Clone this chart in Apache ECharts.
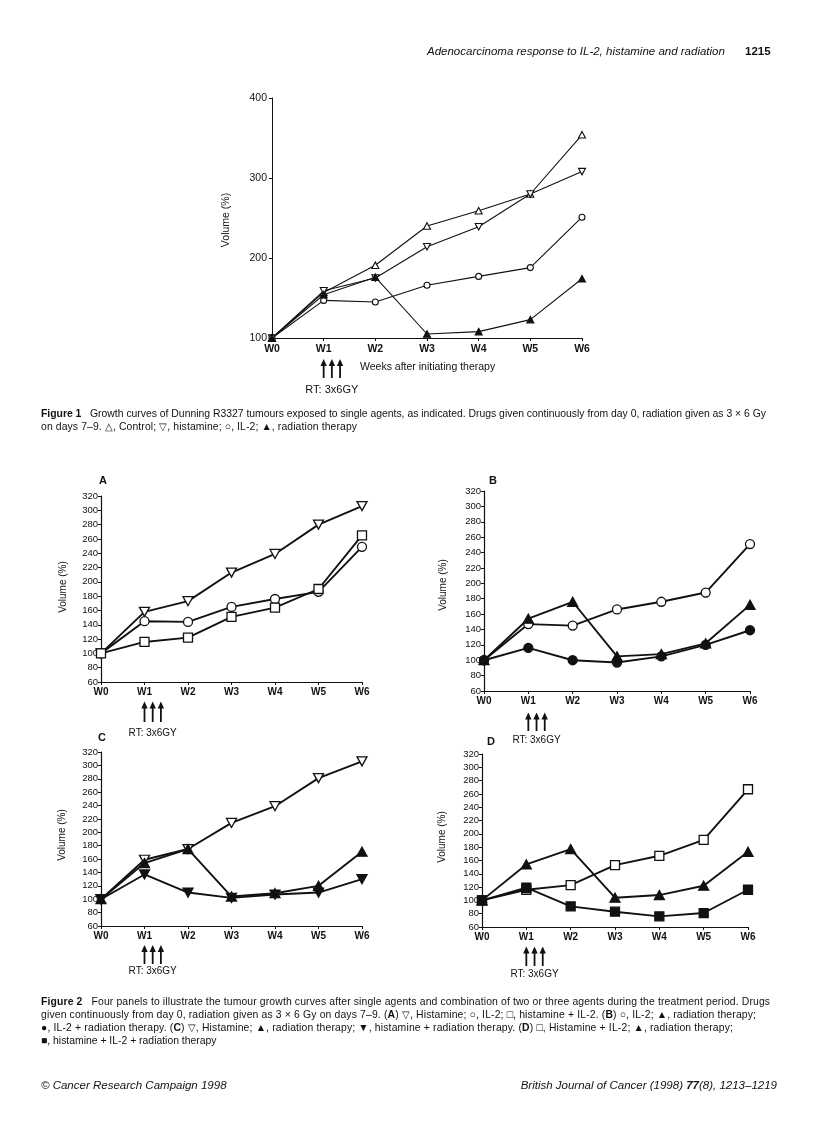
<!DOCTYPE html>
<html>
<head>
<meta charset="utf-8">
<script src="https://cdn.jsdelivr.net/npm/echarts@6/dist/echarts.min.js"></script>
<style>
  html, body { margin: 0; padding: 0; background: #fff; }
  #chart { position: absolute; left: 0; top: 0; width: 816px; height: 1139px; }
  .t { position: absolute; white-space: nowrap; font-family: "Liberation Sans", Arial, Helvetica, sans-serif; color: #111; }
  .cap { font-size: 10.4px; line-height: 13px; left: 41px; }
</style>
</head>
<body>
<div id="chart"></div>

<div class="t" style="left:427px; top:45px; font-size:11.5px; font-style:italic;">Adenocarcinoma response to IL-2, histamine and radiation</div>
<div class="t" style="left:745px; top:45px; font-size:11.5px; font-weight:bold;">1215</div>

<div class="t cap fit" data-r="766" style="top:406.5px;"><b>Figure 1</b>&nbsp;&nbsp; Growth curves of Dunning R3327 tumours exposed to single agents, as indicated. Drugs given continuously from day 0, radiation given as 3 × 6 Gy</div>
<div class="t cap fit" data-r="357" style="top:419.5px;">on days 7–9. △, Control; ▽, histamine; ○, IL-2; ▲, radiation therapy</div>

<div class="t cap fit" data-r="770" style="top:994.5px;"><b>Figure 2</b>&nbsp;&nbsp; Four panels to illustrate the tumour growth curves after single agents and combination of two or three agents during the treatment period. Drugs</div>
<div class="t cap fit" data-r="756" style="top:1007.5px;">given continuously from day 0, radiation given as 3 × 6 Gy on days 7–9. (<b>A</b>) ▽, Histamine; ○, IL-2; □, histamine + IL-2. (<b>B</b>) ○, IL-2; ▲, radiation therapy;</div>
<div class="t cap fit" data-r="733" style="top:1020.5px;">●, IL-2 + radiation therapy. (<b>C</b>) ▽, Histamine; ▲, radiation therapy; ▼, histamine + radiation therapy. (<b>D</b>) □, Histamine + IL-2; ▲, radiation therapy;</div>
<div class="t cap" style="top:1033.5px;">■, histamine + IL-2 + radiation therapy</div>

<div class="t" style="left:41px; top:1079px; font-size:11.5px; font-style:italic;">© Cancer Research Campaign 1998</div>
<div class="t" style="right:39px; top:1079px; font-size:11.5px; font-style:italic;">British Journal of Cancer (1998) <b>77</b>(8), 1213–1219</div>

<script>
// ---------------- DATA ----------------
const weeks = ['W0', 'W1', 'W2', 'W3', 'W4', 'W5', 'W6'];

// Figure 1 tick values
const fig1YTicks = [100, 200, 300, 400];
// Figure 2 tick values
const fig2YTicks = [60, 80, 100, 120, 140, 160, 180, 200, 220, 240, 260, 280, 300, 320];

// Figure 1 series
const f1Control   = [100, 157, 191, 240, 259, 280, 354];
const f1Histamine = [100, 159, 175, 214, 239, 280, 308];
const f1IL2       = [100, 147, 145, 166, 177, 188, 251];
const f1Radiation = [100, 154, 176, 105, 108, 123, 174];

// Figure 2 panel A
const aHistamine = [100, 158, 173, 213, 239, 280, 306];
const aIL2       = [100, 145, 144, 165, 176, 186, 249];
const aHistIL2   = [100, 116, 122, 151, 164, 190, 265];

// Figure 2 panel B
const bIL2   = [100, 147, 145, 166, 176, 188, 251];
const bRT    = [100, 154, 176, 105, 108, 122, 172];
const bIL2RT = [100, 116, 100, 97, 105, 120, 139];

// Figure 2 panel C
const cHistamine = [100, 159, 175, 214, 239, 281, 306];
const cRT        = [100, 154, 175, 104, 109, 120, 171];
const cHistRT    = [100, 137, 110, 102, 107, 110, 130];

// Figure 2 panel D
const dHistIL2   = [100, 116, 123, 153, 167, 191, 267];
const dRT        = [100, 154, 177, 104, 108, 122, 173];
const dHistIL2RT = [100, 119, 91, 83, 76, 81, 116];

// ---------------- CAPTION FITTING ----------------
document.querySelectorAll('.fit').forEach(el => {
  const left = el.getBoundingClientRect().left;
  const w = el.getBoundingClientRect().width;
  const target = parseFloat(el.dataset.r) - left;
  const n = el.textContent.length;
  if (n > 1) el.style.letterSpacing = ((target - w) / (n - 1)).toFixed(3) + 'px';
});

// ---------------- STYLE / LAYOUT ----------------
const FONT = '"Liberation Sans", Arial, Helvetica, sans-serif';
const INK = '#111';

const grids = [
  { left: 272, top: 98,  width: 310, height: 240 },  // Figure 1
  { left: 101, top: 496, width: 261, height: 186 },  // A
  { left: 484, top: 491, width: 266, height: 200 },  // B
  { left: 101, top: 752, width: 261, height: 174 },  // C
  { left: 482, top: 754, width: 266, height: 173 }   // D
].map(g => Object.assign({ containLabel: false, outerBoundsMode: 'none' }, g));

function xAxis(gi, big) {
  return {
    type: 'category', gridIndex: gi, data: weeks, boundaryGap: false,
    axisLine: { show: true, lineStyle: { color: INK, width: 1 } },
    axisTick: { show: true, length: 3, lineStyle: { color: INK } },
    axisLabel: { color: INK, fontFamily: FONT, fontWeight: 'bold', fontSize: big ? 10.5 : 10, margin: big ? 6 : 5 },
    splitLine: { show: false }
  };
}
function yAxis(gi, ticks, big) {
  const step = ticks[1] - ticks[0];
  return {
    type: 'value', gridIndex: gi, min: ticks[0], max: ticks[ticks.length - 1], interval: step,
    axisLine: { show: true, lineStyle: { color: INK, width: big ? 1 : 1.2 } },
    axisTick: { show: true, length: 3, lineStyle: { color: INK } },
    axisLabel: { color: INK, fontFamily: FONT, fontSize: big ? 10.5 : 9.5, margin: big ? 5 : 3 },
    splitLine: { show: false }
  };
}

const SYM = {
  triUpOpen:     { symbol: 'triangle', rotate: 0,   fill: '#fff' },
  triDownOpen:   { symbol: 'triangle', rotate: 180, fill: '#fff' },
  circleOpen:    { symbol: 'circle',   rotate: 0,   fill: '#fff' },
  rectOpen:      { symbol: 'rect',     rotate: 0,   fill: '#fff' },
  triUpFilled:   { symbol: 'triangle', rotate: 0,   fill: INK },
  triDownFilled: { symbol: 'triangle', rotate: 180, fill: INK },
  circleFilled:  { symbol: 'circle',   rotate: 0,   fill: INK },
  rectFilled:    { symbol: 'rect',     rotate: 0,   fill: INK }
};

function line(name, data, gi, kind, big) {
  const s = SYM[kind];
  let size;
  if (big) size = s.symbol === 'triangle' ? [7, 6.5] : 6;
  else size = s.symbol === 'triangle' ? [10, 9] : 9;
  return {
    type: 'line', name, data, xAxisIndex: gi, yAxisIndex: gi,
    symbol: s.symbol, symbolRotate: s.rotate, symbolSize: size, showAllSymbol: true,
    lineStyle: { color: INK, width: big ? 1.1 : 1.9 },
    itemStyle: { color: s.fill, borderColor: INK, borderWidth: big ? 1.1 : 1.3 },
    emphasis: { disabled: true }, animation: false, z: 3
  };
}

const chart = echarts.init(document.getElementById('chart'), null, { renderer: 'canvas', width: 816, height: 1139 });

chart.setOption({
  backgroundColor: '#fff',
  animation: false,
  textStyle: { fontFamily: FONT, color: INK },
  grid: grids,
  xAxis: [xAxis(0, true), xAxis(1), xAxis(2), xAxis(3), xAxis(4)],
  yAxis: [yAxis(0, fig1YTicks, true), yAxis(1, fig2YTicks), yAxis(2, fig2YTicks), yAxis(3, fig2YTicks), yAxis(4, fig2YTicks)],
  series: [
    line('Control', f1Control, 0, 'triUpOpen', true),
    line('Histamine', f1Histamine, 0, 'triDownOpen', true),
    line('IL-2', f1IL2, 0, 'circleOpen', true),
    line('Radiation therapy', f1Radiation, 0, 'triUpFilled', true),

    line('Histamine', aHistamine, 1, 'triDownOpen'),
    line('IL-2', aIL2, 1, 'circleOpen'),
    line('Histamine + IL-2', aHistIL2, 1, 'rectOpen'),

    line('IL-2', bIL2, 2, 'circleOpen'),
    line('Radiation therapy', bRT, 2, 'triUpFilled'),
    line('IL-2 + radiation therapy', bIL2RT, 2, 'circleFilled'),

    line('Histamine', cHistamine, 3, 'triDownOpen'),
    line('Radiation therapy', cRT, 3, 'triUpFilled'),
    line('Histamine + radiation therapy', cHistRT, 3, 'triDownFilled'),

    line('Histamine + IL-2', dHistIL2, 4, 'rectOpen'),
    line('Radiation therapy', dRT, 4, 'triUpFilled'),
    line('Histamine + IL-2 + radiation therapy', dHistIL2RT, 4, 'rectFilled')
  ]
});

// ---------------- ANNOTATIONS ----------------
const graphics = [];
function txt(text, x, y, opts) {
  graphics.push({
    type: 'text', x, y, rotation: opts.rot || 0, silent: true,
    style: Object.assign({
      text, fill: INK, fontFamily: FONT, fontSize: 10,
      textAlign: 'center', textVerticalAlign: 'middle'
    }, opts.style || {})
  });
}
function arrowsFor(gi, yMin, cfg) {
  const p = chart.convertToPixel({ gridIndex: gi }, [1, yMin]);
  const x0 = p[0], y0 = p[1];
  for (let k = 0; k < 3; k++) {
    const x = x0 + k * cfg.gap;
    const tip = y0 + cfg.top;
    graphics.push({ type: 'line', silent: true,
      shape: { x1: x, y1: tip + 5, x2: x, y2: y0 + cfg.bottom },
      style: { stroke: INK, lineWidth: 1.8 } });
    graphics.push({ type: 'polygon', silent: true,
      shape: { points: [[x, tip], [x - 3.2, tip + 7], [x + 3.2, tip + 7]] },
      style: { fill: INK } });
  }
  txt('RT: 3x6GY', x0 + cfg.gap, y0 + cfg.label, { style: { fontSize: cfg.fs } });
}

arrowsFor(0, fig1YTicks[0], { gap: 8.2, top: 21, bottom: 40, label: 52, fs: 11 });
arrowsFor(1, fig2YTicks[0], { gap: 8.2, top: 19.5, bottom: 40, label: 51, fs: 10 });
arrowsFor(2, fig2YTicks[0], { gap: 8.2, top: 21.5, bottom: 40, label: 49, fs: 10 });
arrowsFor(3, fig2YTicks[0], { gap: 8.2, top: 19, bottom: 38, label: 45, fs: 10 });
arrowsFor(4, fig2YTicks[0], { gap: 8.2, top: 19.5, bottom: 39, label: 47, fs: 10 });

// Axis titles
txt('Weeks after initiating therapy', 360, 367, { style: { textAlign: 'left', fontSize: 10.5 } });
txt('Volume (%)', 226, 220, { rot: Math.PI / 2, style: { fontSize: 10.5 } });
txt('Volume (%)', 63, 587, { rot: Math.PI / 2, style: { fontSize: 10 } });
txt('Volume (%)', 443, 585, { rot: Math.PI / 2, style: { fontSize: 10 } });
txt('Volume (%)', 62, 835, { rot: Math.PI / 2, style: { fontSize: 10 } });
txt('Volume (%)', 442, 837, { rot: Math.PI / 2, style: { fontSize: 10 } });

// Panel letters
txt('A', 103, 481, { style: { fontWeight: 'bold', fontSize: 11 } });
txt('B', 493, 481, { style: { fontWeight: 'bold', fontSize: 11 } });
txt('C', 102, 738, { style: { fontWeight: 'bold', fontSize: 11 } });
txt('D', 491, 742, { style: { fontWeight: 'bold', fontSize: 11 } });

chart.setOption({ graphic: graphics });
</script>
</body>
</html>
